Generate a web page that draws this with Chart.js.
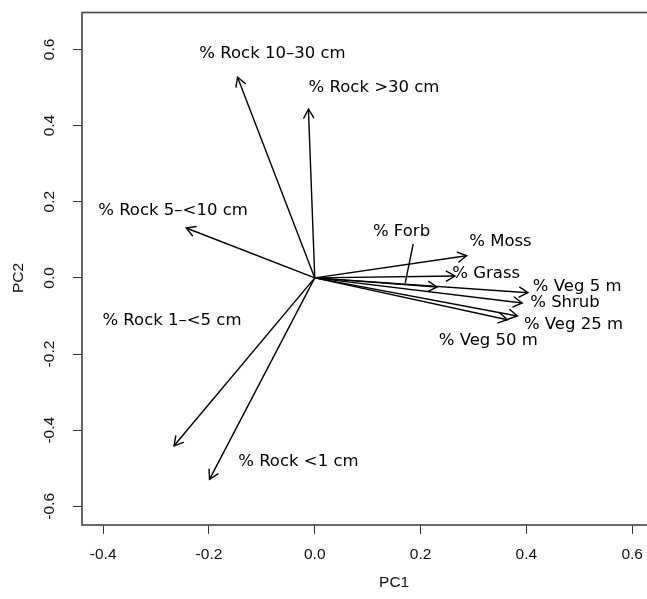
<!DOCTYPE html>
<html><head><meta charset="utf-8">
<style>html,body{margin:0;padding:0;background:#fff}canvas{display:block}</style>
</head><body>
<canvas id="c" width="647" height="599"></canvas>
<script src="https://cdn.jsdelivr.net/npm/chart.js@4/dist/chart.umd.min.js"></script>
<script>
// Variable loadings (arrow tips) on PC1 / PC2
const variables = ["% Rock 10–30 cm", "% Rock >30 cm", "% Rock 5–<10 cm", "% Rock 1–<5 cm", "% Rock <1 cm",
                   "% Moss", "% Grass", "% Forb", "% Veg 5 m", "% Shrub", "% Veg 25 m", "% Veg 50 m"];
const pc1 = [-0.146, -0.012, -0.243, -0.266, -0.199, 0.287, 0.265, 0.231, 0.403, 0.392, 0.383, 0.364];
const pc2 = [0.527, 0.443, 0.131, -0.441, -0.529, 0.058, 0.005, -0.024, -0.039, -0.066, -0.100, -0.110];
// Label anchor positions (data units)
const labelX = [-0.080, 0.112, -0.268, -0.270, -0.031, 0.351, 0.324, 0.164, 0.496, 0.473, 0.489, 0.328];
const labelY = [0.590, 0.500, 0.176, -0.113, -0.483, 0.095, 0.011, 0.121, -0.024, -0.066, -0.123, -0.165];
// Leader line from "% Forb" label to its arrow
const forbLeaderX = [0.186, 0.171];
const forbLeaderY = [0.089, -0.013];
// Axis ticks
const xTicks = [-0.4, -0.2, 0.0, 0.2, 0.4, 0.6];
const yTicks = [-0.6, -0.4, -0.2, 0.0, 0.2, 0.4, 0.6];
const xTitle = "PC1";
const yTitle = "PC2";

const datasets = variables.map((name, i) => ({
  label: name,
  data: [{x: 0, y: 0}, {x: pc1[i], y: pc2[i]}],
  showLine: true, borderColor: '#000', borderWidth: 1.4, pointRadius: 0, arrow: true
}));
datasets.push({
  label: 'forb-leader',
  data: forbLeaderX.map((x, i) => ({x: x, y: forbLeaderY[i]})),
  showLine: true, borderColor: '#000', borderWidth: 1.4, pointRadius: 0, arrow: false
});

const biplotPlugin = {
  id: 'biplot',
  afterDatasetsDraw(chart) {
    const ctx = chart.ctx, xs = chart.scales.x, ys = chart.scales.y, ca = chart.chartArea;
    ctx.save();
    // arrowheads
    ctx.strokeStyle = '#000'; ctx.lineWidth = 1.4; ctx.lineCap = 'round';
    chart.data.datasets.forEach(ds => {
      if (!ds.arrow) return;
      const p0 = ds.data[0], p1 = ds.data[1];
      const x0 = xs.getPixelForValue(p0.x), y0 = ys.getPixelForValue(p0.y);
      const x1 = xs.getPixelForValue(p1.x), y1 = ys.getPixelForValue(p1.y);
      const a = Math.atan2(y1 - y0, x1 - x0), L = 10, h = Math.PI / 6;
      ctx.beginPath();
      ctx.moveTo(x1 - L * Math.cos(a - h), y1 - L * Math.sin(a - h));
      ctx.lineTo(x1, y1);
      ctx.lineTo(x1 - L * Math.cos(a + h), y1 - L * Math.sin(a + h));
      ctx.stroke();
    });
    // variable labels
    ctx.fillStyle = '#000';
    ctx.font = '16.5px "DejaVu Sans"';
    ctx.textAlign = 'center'; ctx.textBaseline = 'middle';
    variables.forEach((name, i) => {
      ctx.fillText(name, xs.getPixelForValue(labelX[i]), ys.getPixelForValue(labelY[i]));
    });
    // box
    ctx.strokeStyle = '#444'; ctx.lineWidth = 1.6; ctx.lineCap = 'butt';
    ctx.strokeRect(ca.left, ca.top, ca.right - ca.left + 3, ca.bottom - ca.top);
    // tick labels
    ctx.fillStyle = '#111';
    ctx.font = '15.5px "Liberation Sans", Arial, sans-serif';
    ctx.textAlign = 'center'; ctx.textBaseline = 'middle';
    xTicks.forEach(v => ctx.fillText(v.toFixed(1), xs.getPixelForValue(v), 555));
    yTicks.forEach(v => {
      ctx.save();
      ctx.translate(50, ys.getPixelForValue(v));
      ctx.rotate(-Math.PI / 2);
      ctx.fillText(v.toFixed(1), 0, 0);
      ctx.restore();
    });
    // axis titles
    ctx.fillText(xTitle, xs.getPixelForValue(0.15), 583);
    ctx.save();
    ctx.translate(19, ys.getPixelForValue(0));
    ctx.rotate(-Math.PI / 2);
    ctx.fillText(yTitle, 0, 0);
    ctx.restore();
    ctx.restore();
  }
};

new Chart(document.getElementById('c'), {
  type: 'scatter',
  data: {datasets},
  options: {
    responsive: false, animation: false, devicePixelRatio: 1,
    layout: {padding: {top: 12.5, left: 0, right: 0, bottom: 0}},
    plugins: {legend: {display: false}, tooltip: {enabled: false}},
    scales: {
      x: {
        type: 'linear', min: -0.44, max: 0.628,
        afterBuildTicks: s => { s.ticks = xTicks.map(v => ({value: v})); },
        afterFit: s => { s.height = 74; },
        ticks: {display: false},
        border: {display: false},
        grid: {drawOnChartArea: false, drawTicks: true, tickLength: 9, color: '#333', lineWidth: 1}
      },
      y: {
        type: 'linear', min: -0.649, max: 0.697,
        afterBuildTicks: s => { s.ticks = yTicks.map(v => ({value: v})); },
        afterFit: s => { s.width = 82; },
        ticks: {display: false},
        border: {display: false},
        grid: {drawOnChartArea: false, drawTicks: true, tickLength: 9, color: '#333', lineWidth: 1}
      }
    }
  },
  plugins: [biplotPlugin]
});
</script>
</body></html>
